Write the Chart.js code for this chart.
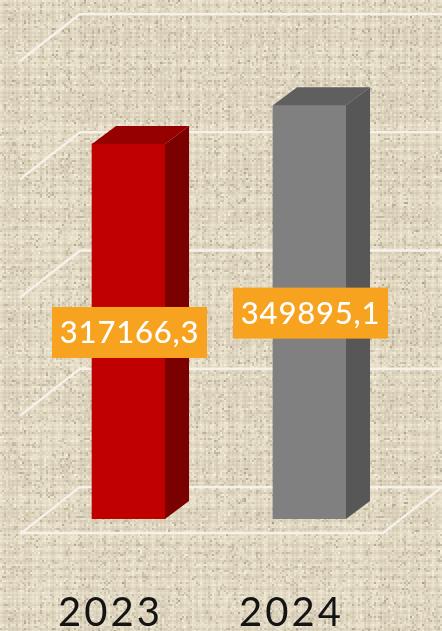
<!DOCTYPE html>
<html><head><meta charset="utf-8">
<style>html,body{margin:0;padding:0;background:#e2d9c3;overflow:hidden}
#w{width:442px;height:631px;position:relative}
canvas{display:block;filter:blur(0.5px)}</style>
<script src="https://cdn.jsdelivr.net/npm/chart.js@4"></script>
</head><body><div id="w"><canvas id="c" width="442" height="631"></canvas></div>
<script>
const categories = ['2023','2024'];
const values = [317166.3, 349895.1];
const frontColors = ['#c00000','#808080'];
const sideColors = ['#7b0000','#575757'];
const topColors = ['#960000','#5f5f5f'];
const labelBox = '#f7a31f';
const gridColor = '#f6f2e9';

function weave(){
  const s=300,t=document.createElement('canvas');t.width=t.height=s;
  const g=t.getContext('2d');let seed=12345;
  const r=()=>(seed=(seed*1664525+1013904223)>>>0)/4294967296;
  g.fillStyle='#e1d8c2';g.fillRect(0,0,s,s);
  for(let i=0;i<s;i+=4){
    const a=r(),b=r();
    g.fillStyle=a<.45?'rgba(248,242,224,.28)':'rgba(178,166,140,.14)';
    g.fillRect(i,0,2,s);
    g.fillStyle=b<.45?'rgba(248,242,224,.28)':'rgba(178,166,140,.14)';
    g.fillRect(0,i,s,2);
  }
  for(let k=0;k<5200;k++){
    const x=Math.floor(r()*s/2)*2,y=Math.floor(r()*s/2)*2,v=r();
    g.fillStyle=v<.5?'rgba(130,118,94,.26)':'rgba(252,247,232,.42)';
    g.fillRect(x,y,2,2);
  }
  return t;
}
const tex=weave();

const scene={
  id:'scene',
  beforeDraw(ch){
    const {ctx}=ch;ctx.save();
    ctx.fillStyle=ctx.createPattern(tex,'repeat');ctx.fillRect(0,0,ch.width,ch.height);
    ctx.restore();
    ctx.letterSpacing='3px';
  },
  beforeDatasetsDraw(ch){
    const {ctx,scales:{y}}=ch;
    ctx.save();ctx.strokeStyle=gridColor;ctx.lineWidth=2.4;ctx.lineJoin='round';
    y.ticks.forEach(t=>{
      const p=y.getPixelForValue(t.value);
      ctx.beginPath();ctx.moveTo(20,p+15);ctx.lineTo(80,p-32);ctx.lineTo(442,p-32);ctx.stroke();
    });
    const p0=y.getPixelForValue(0);
    ctx.beginPath();ctx.moveTo(20,p0+14);ctx.lineTo(383,p0+14);ctx.lineTo(442,p0-32);ctx.stroke();
    ctx.restore();
  },
  afterDatasetsDraw(ch){
    const {ctx}=ch,dx=24,dy=18;
    const bars=ch.getDatasetMeta(0).data;
    bars.forEach((b,i)=>{
      const l=b.x-b.width/2,r=b.x+b.width/2;
      ctx.fillStyle=sideColors[i];
      ctx.beginPath();ctx.moveTo(r,b.y);ctx.lineTo(r+dx,b.y-dy);ctx.lineTo(r+dx,b.base-dy);ctx.lineTo(r,b.base);ctx.closePath();ctx.fill();
      ctx.fillStyle=topColors[i];
      ctx.beginPath();ctx.moveTo(l,b.y);ctx.lineTo(l+dx,b.y-dy);ctx.lineTo(r+dx,b.y-dy);ctx.lineTo(r,b.y);ctx.closePath();ctx.fill();
    });
    bars.forEach((b,i)=>{
      const cx=b.x+1,cy=(b.y+b.base)/2+1;
      ctx.fillStyle=labelBox;ctx.fillRect(cx-77.5,cy-25.5,155,51);
      ctx.save();
      ctx.letterSpacing='0.8px';
      ctx.fillStyle='#fff';ctx.font='500 31px Lato';ctx.textAlign='center';ctx.textBaseline='middle';
      ctx.fillText(String(values[i]).replace('.',','),cx,cy+1);
      ctx.restore();
    });
  }
};

new Chart(document.getElementById('c'),{
  type:'bar',
  data:{labels:categories,datasets:[{data:values,backgroundColor:frontColors,barThickness:73}]},
  options:{
    responsive:false,animation:false,
    layout:{padding:{left:38,right:42,top:46,bottom:0}},
    plugins:{legend:{display:false},tooltip:{enabled:false}},
    scales:{
      x:{grid:{display:false},border:{display:false},
         afterFit(a){a.height=112},
         ticks:{color:'#141414',padding:62,labelOffset:-18,maxRotation:0,font:{family:'Lato',size:40,weight:'400'}}},
      y:{display:false,min:0,max:400000,ticks:{stepSize:100000}}
    }
  },
  plugins:[scene]
});
</script></body></html>
